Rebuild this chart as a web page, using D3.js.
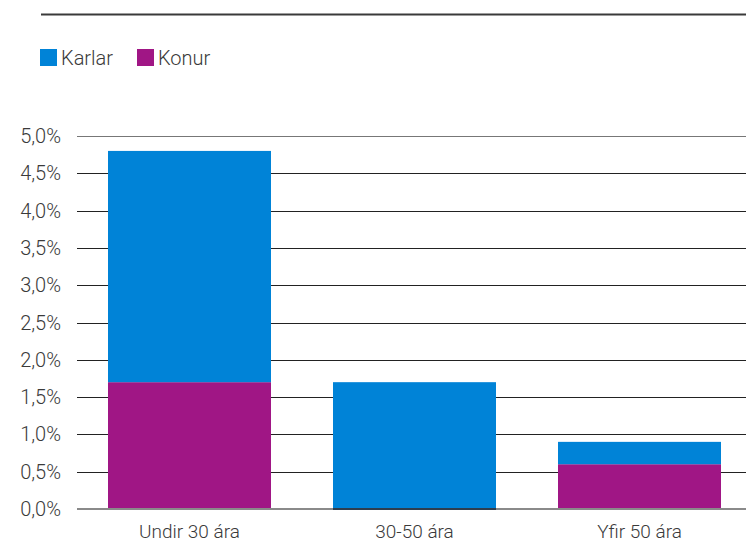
<!DOCTYPE html>
<html>
<head>
<meta charset="utf-8">
<script src="https://cdn.jsdelivr.net/npm/d3@7"></script>
<style>
  body { margin: 0; background: #fff; }
  text { font-family: Roboto, "Noto Sans", sans-serif; font-weight: 300; fill: #3a3a3a; }
</style>
</head>
<body>
<svg width="746" height="542"></svg>
<script>
var categories = ["Undir 30 ára", "30-50 ára", "Yfir 50 ára"];
var seriesNames = ["Konur", "Karlar"];
var konur = [1.7, 0.0, 0.6];
var karlar = [3.1, 1.7, 0.3];
var yTicks = [0, 0.5, 1, 1.5, 2, 2.5, 3, 3.5, 4, 4.5, 5];
var colors = {Karlar: "#0083d7", Konur: "#a01685"};

var svg = d3.select("svg"),
    width = +svg.attr("width"),
    height = +svg.attr("height");

var rows = categories.map(function(c, i) { return {cat: c, Konur: konur[i], Karlar: karlar[i]}; });

var x = d3.scaleBand().domain(categories).range([77, 752]).paddingInner(0.2756).paddingOuter(0.1378);
var y = d3.scaleLinear().domain([0, 5]).range([509, 136]);

// top rule
svg.append("line").attr("x1", 41).attr("x2", width).attr("y1", 14.5).attr("y2", 14.5)
  .attr("stroke", "#3a3a3a").attr("stroke-width", 2);

// legend
var legend = svg.append("g");
[["Karlar", 40], ["Konur", 137]].forEach(function(d) {
  legend.append("rect").attr("x", d[1]).attr("y", 49).attr("width", 17).attr("height", 17).attr("fill", colors[d[0]]);
  legend.append("text").attr("x", d[1] + 21).attr("y", 65).style("font-size", "20px").text(d[0]);
});

// grid lines + y labels
var fmt = function(v) { return d3.format(".1f")(v).replace(".", ",") + "%"; };
var grid = svg.append("g");
yTicks.forEach(function(t) {
  if (t === 0) return;
  grid.append("line").attr("x1", 77).attr("x2", width)
    .attr("y1", Math.round(y(t)) + 0.5).attr("y2", Math.round(y(t)) + 0.5)
    .attr("stroke", t === 5 ? "#777" : "#222").attr("stroke-width", 1);
});
svg.append("g").selectAll("text").data(yTicks).enter().append("text")
  .attr("x", 61).attr("y", function(d) { return y(d) + 7; })
  .attr("text-anchor", "end").style("font-size", "20px")
  .text(fmt);

// stacked bars
var stack = d3.stack().keys(seriesNames)(rows);
svg.append("g").selectAll("g").data(stack).enter().append("g")
  .attr("fill", function(d) { return colors[d.key]; })
  .selectAll("rect").data(function(d) { return d; }).enter().append("rect")
  .attr("x", function(d) { return x(d.data.cat); })
  .attr("width", x.bandwidth())
  .attr("y", function(d) { return y(d[1]); })
  .attr("height", function(d) { return y(d[0]) - y(d[1]); });

// baseline
svg.append("line").attr("x1", 77).attr("x2", width).attr("y1", 509).attr("y2", 509)
  .attr("stroke", "#8a8a8a").attr("stroke-width", 2);
svg.append("line").attr("x1", x(categories[1])).attr("x2", x(categories[1]) + x.bandwidth())
  .attr("y1", 509).attr("y2", 509).attr("stroke", "#2e3e4e").attr("stroke-width", 2);

// x labels
svg.append("g").selectAll("text").data(categories).enter().append("text")
  .attr("x", function(d) { return x(d) + x.bandwidth() / 2; })
  .attr("y", 538).attr("text-anchor", "middle").style("font-size", "19px")
  .text(function(d) { return d; });
</script>
</body>
</html>
